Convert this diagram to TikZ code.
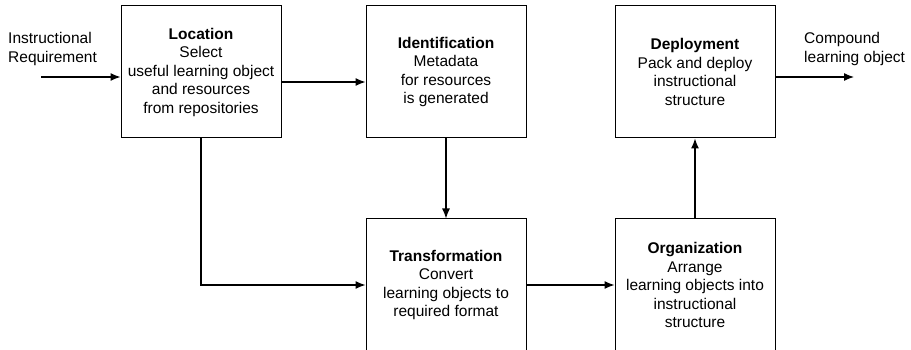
\documentclass[tikz,border=0pt]{standalone}
\usepackage{fontspec}
\setmainfont{Liberation Sans}
\usepackage{tikz}
\usetikzlibrary{positioning}
\usetikzlibrary{arrows.meta}

\tikzset{
  stage/.style={draw, line width=1pt, minimum width=160pt, minimum height=132pt,
    inner sep=0pt, align=center, font=\fontsize{15.5}{18.5}\selectfont},
  flow/.style={line width=1.2pt, -{Latex[length=10pt,width=8pt]}},
  ioText/.style={align=left, anchor=west, inner sep=0pt, font=\fontsize{15.5}{18.5}\selectfont}
}

\begin{document}
\begin{tikzpicture}[x=1pt, y=-1pt]

% Set the size of the figure
\useasboundingbox (0,0) rectangle (911,350);

% The five stages
\node[stage] (loc) at (201,72) {\textbf{Location}\\Select\\useful learning object\\and resources\\from repositories};
\node[stage] (ident) at (446,72) {\textbf{Identification}\\Metadata\\for resources\\is generated};
\node[stage] (deploy) at (695,72) {\textbf{Deployment}\\Pack and deploy\\instructional\\structure};
\node[stage] (trans) at (446,285) {\textbf{Transformation}\\Convert\\learning objects to\\required format};
\node[stage] (org) at (695,285) {\textbf{Organization}\\Arrange\\learning objects into\\instructional\\structure};

% Input and output
\node[ioText] (req) at (8,49) {Instructional\\Requirement};
\node[ioText] (clo) at (804,49) {Compound\\learning object};
\coordinate (in) at (41,77);
\coordinate (out) at (854,77);

% Connectors
\draw[flow] (in) -- (loc.west |- in);
\draw[flow] ([yshift=-10pt]loc.east) -- ([yshift=-10pt]ident.west);
\draw[flow] (loc.south) |- (trans.west);
\draw[flow] (ident.south) -- (trans.north);
\draw[flow] (trans.east) -- (org.west);
\draw[flow] (org.north) -- (deploy.south);
\draw[flow] (deploy.east |- out) -- (out);
\end{tikzpicture}
\end{document}
